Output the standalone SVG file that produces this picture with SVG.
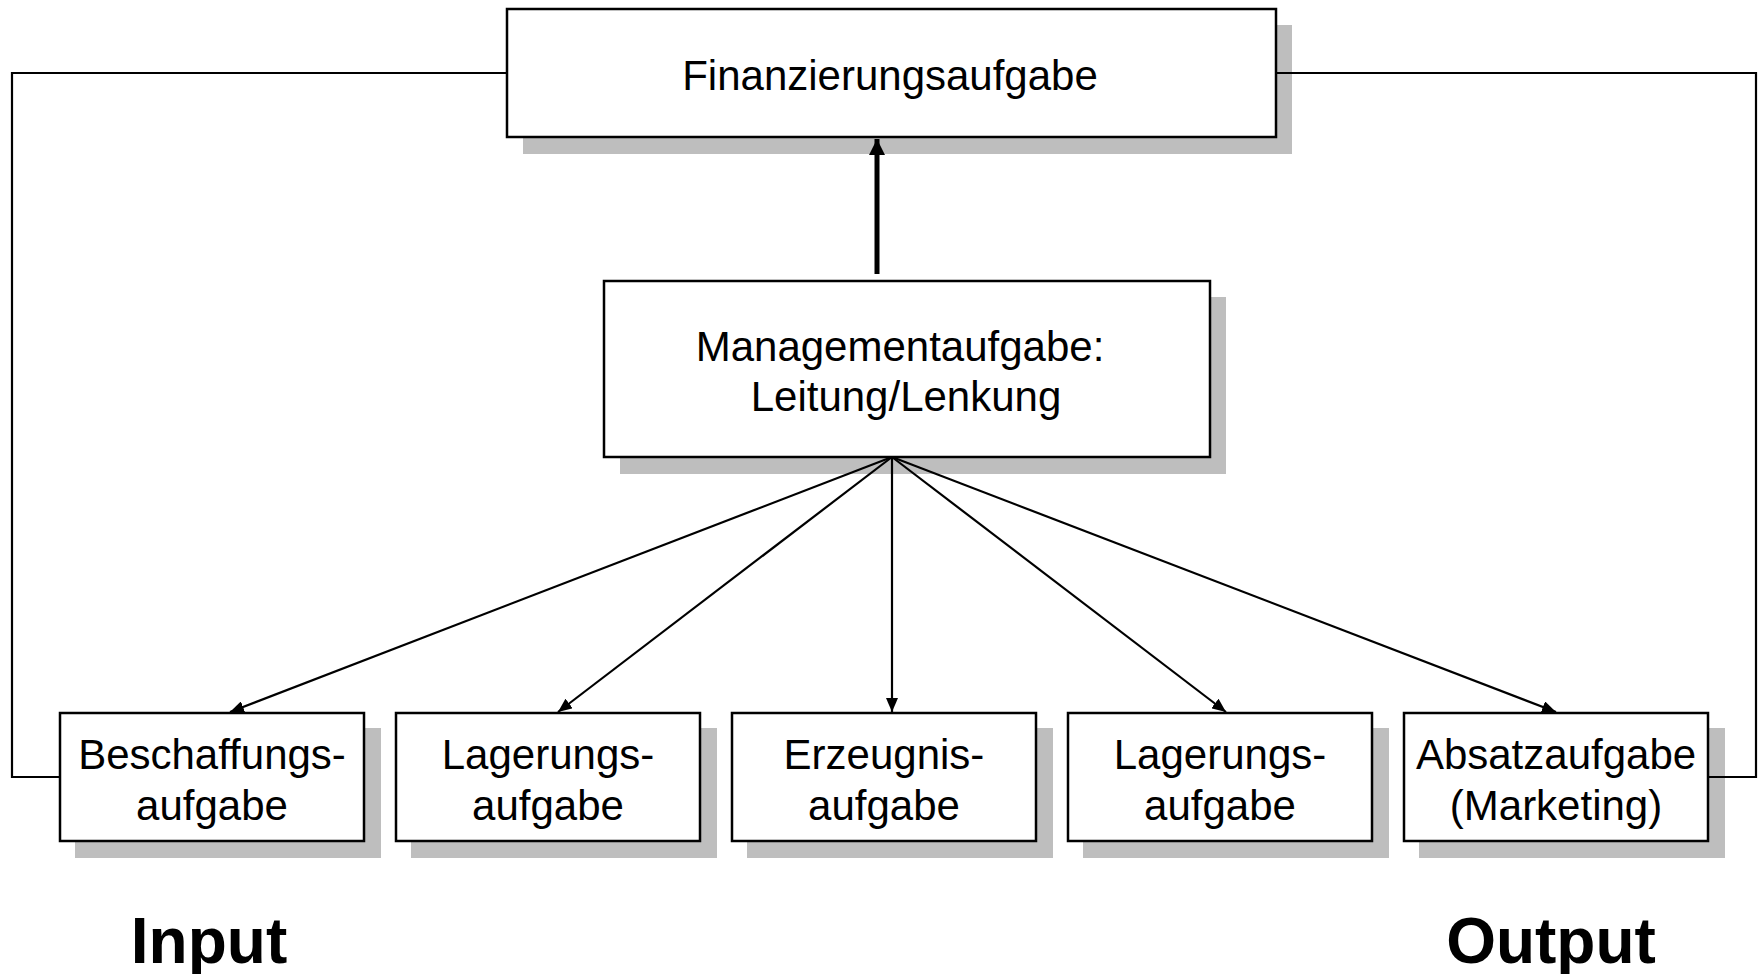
<svg xmlns="http://www.w3.org/2000/svg" width="1760" height="974" viewBox="0 0 1760 974">
  <style>
    .shadow { fill: #bebebe; }
    .box { fill: #ffffff; stroke: #000000; stroke-width: 2.5; }
    .label { font-family: "Liberation Sans", Arial, sans-serif; font-size: 42px; fill: #000000; text-anchor: middle; }
    .big { font-family: "Liberation Sans", Arial, sans-serif; font-size: 64px; font-weight: bold; fill: #000000; text-anchor: middle; }
    .wire { fill: none; stroke: #000000; stroke-width: 2.2; }
    .fan { fill: none; stroke: #000000; stroke-width: 2.2; marker-end: url(#tip); }
    .main { fill: none; stroke: #000000; stroke-width: 5; marker-end: url(#tipBig); }
  </style>
  <defs>
    <marker id="tip" viewBox="0 0 14 12" refX="14" refY="6" markerWidth="14" markerHeight="12" markerUnits="userSpaceOnUse" orient="auto">
      <path d="M0,0 L14,6 L0,12 Z" fill="#000000"/>
    </marker>
    <marker id="tipBig" viewBox="0 0 16 16" refX="16" refY="8" markerWidth="16" markerHeight="16" markerUnits="userSpaceOnUse" orient="auto">
      <path d="M0,0 L16,8 L0,16 Z" fill="#000000"/>
    </marker>
  </defs>
  <rect width="1760" height="974" fill="#ffffff"/>

  <!-- shadows sit under everything -->
  <g id="shadows">
    <rect class="shadow" x="523" y="25" width="769" height="129"/>
    <rect class="shadow" x="620" y="297" width="606" height="177"/>
    <rect class="shadow" x="75" y="728" width="306" height="130"/>
    <rect class="shadow" x="411" y="728" width="306" height="130"/>
    <rect class="shadow" x="747" y="728" width="306" height="130"/>
    <rect class="shadow" x="1083" y="728" width="306" height="130"/>
    <rect class="shadow" x="1419" y="728" width="306" height="130"/>
  </g>

  <g id="connectors">
    <!-- input / output feedback loops to the financing task -->
    <polyline class="wire" points="507,73 12,73 12,777 60,777"/>
    <polyline class="wire" points="1276,73 1756,73 1756,777 1707,777"/>
    <!-- management reports up -->
    <line class="main" x1="877" y1="274" x2="877" y2="139"/>
    <!-- management steers the operational tasks -->
    <line class="fan" x1="892" y1="457" x2="230" y2="712"/>
    <line class="fan" x1="892" y1="457" x2="558" y2="712"/>
    <line class="fan" x1="892" y1="457" x2="892" y2="712"/>
    <line class="fan" x1="892" y1="457" x2="1226" y2="712"/>
    <line class="fan" x1="892" y1="457" x2="1556" y2="712"/>
  </g>

  <g id="finanzierung">
    <rect class="box" x="507" y="9" width="769" height="128"/>
    <text class="label" x="890" y="90">Finanzierungsaufgabe</text>
  </g>

  <g id="management">
    <rect class="box" x="604" y="281" width="606" height="176"/>
    <text class="label" x="900" y="361">Managementaufgabe:</text>
    <text class="label" x="906" y="411">Leitung/Lenkung</text>
  </g>

  <g id="beschaffung">
    <rect class="box" x="60" y="713" width="304" height="128"/>
    <text class="label" x="212" y="769">Beschaffungs-</text>
    <text class="label" x="212" y="820">aufgabe</text>
  </g>

  <g id="lagerung-1">
    <rect class="box" x="396" y="713" width="304" height="128"/>
    <text class="label" x="548" y="769">Lagerungs-</text>
    <text class="label" x="548" y="820">aufgabe</text>
  </g>

  <g id="erzeugnis">
    <rect class="box" x="732" y="713" width="304" height="128"/>
    <text class="label" x="884" y="769">Erzeugnis-</text>
    <text class="label" x="884" y="820">aufgabe</text>
  </g>

  <g id="lagerung-2">
    <rect class="box" x="1068" y="713" width="304" height="128"/>
    <text class="label" x="1220" y="769">Lagerungs-</text>
    <text class="label" x="1220" y="820">aufgabe</text>
  </g>

  <g id="absatz">
    <rect class="box" x="1404" y="713" width="304" height="128"/>
    <text class="label" x="1556" y="769">Absatzaufgabe</text>
    <text class="label" x="1556" y="820">(Marketing)</text>
  </g>

  <g id="input">
    <text class="big" x="209" y="963">Input</text>
  </g>
  <g id="output">
    <text class="big" x="1551" y="963">Output</text>
  </g>
</svg>
